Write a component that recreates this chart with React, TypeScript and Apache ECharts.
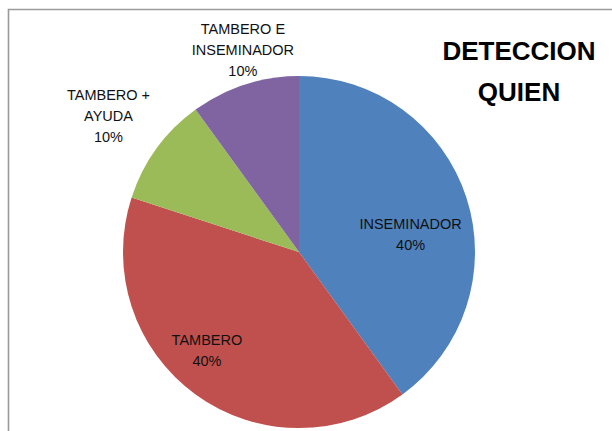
import React, { useEffect, useRef } from "react";
import * as echarts from "echarts";

const categories = ["INSEMINADOR", "TAMBERO", "TAMBERO + AYUDA", "TAMBERO E INSEMINADOR"];
const displayNames = ["INSEMINADOR", "TAMBERO", "TAMBERO +\nAYUDA", "TAMBERO E\nINSEMINADOR"];
const values = [40, 40, 10, 10];
const colors = ["#4F81BD", "#C0504D", "#9BBB59", "#8064A2"];
const titleText = "DETECCION\nQUIEN";

// layout (style) constants
const CX = 299;
const CY = 252;
const R = 176;
// label placement: [angle clockwise from 12 o'clock in deg, distance from centre in px]
const labelPlacement: [number, number][] = [
  [81, 113],
  [223, 135],
  [305.5, 234],
  [344.5, 210],
];

export default function App() {
  const ref = useRef<HTMLDivElement>(null);
  useEffect(() => {
    if (!ref.current) return;
    const chart = echarts.init(ref.current, null, { renderer: "svg" });
    const font = "'Liberation Sans', Arial, sans-serif";
    chart.setOption({
      animation: false,
      backgroundColor: "#ffffff",
      title: {
        text: titleText,
        left: 514,
        top: 25.5,
        textAlign: "center",
        textStyle: {
          fontFamily: font,
          fontSize: 26,
          fontWeight: "bold",
          color: "#000000",
          lineHeight: 41,
        },
      },
      graphic: [
        {
          type: "rect",
          shape: { x: 8.5, y: 9.5, width: 700, height: 500 },
          style: { fill: "none", stroke: "#9a9a9a", lineWidth: 1.6 },
          silent: true,
          z: 100,
        },
      ],
      series: [
        {
          type: "pie",
          center: [CX, CY],
          radius: [0, R],
          startAngle: 90,
          clockwise: true,
          avoidLabelOverlap: false,
          itemStyle: { borderWidth: 0 },
          label: {
            show: true,
            position: "inside",
            formatter: (p: any) => `${displayNames[p.dataIndex]}\n${p.percent.toFixed(0)}%`,
            fontFamily: font,
            fontSize: 14.5,
            lineHeight: 21,
            color: "#111111",
            align: "center",
            verticalAlign: "middle",
          },
          labelLine: { show: false },
          labelLayout: (params: any) => {
            const [ang, dist] = labelPlacement[params.dataIndex];
            const a = (ang * Math.PI) / 180;
            return {
              x: CX + dist * Math.sin(a),
              y: CY - dist * Math.cos(a),
              align: "center",
              verticalAlign: "middle",
            };
          },
          emphasis: { disabled: true },
          data: categories.map((name, i) => ({
            name,
            value: values[i],
            itemStyle: { color: colors[i] },
          })),
        },
      ],
    });
    return () => chart.dispose();
  }, []);
  return (
    <div
      ref={ref}
      style={{ position: "fixed", left: 0, top: 0, width: 612, height: 431 }}
    />
  );
}
